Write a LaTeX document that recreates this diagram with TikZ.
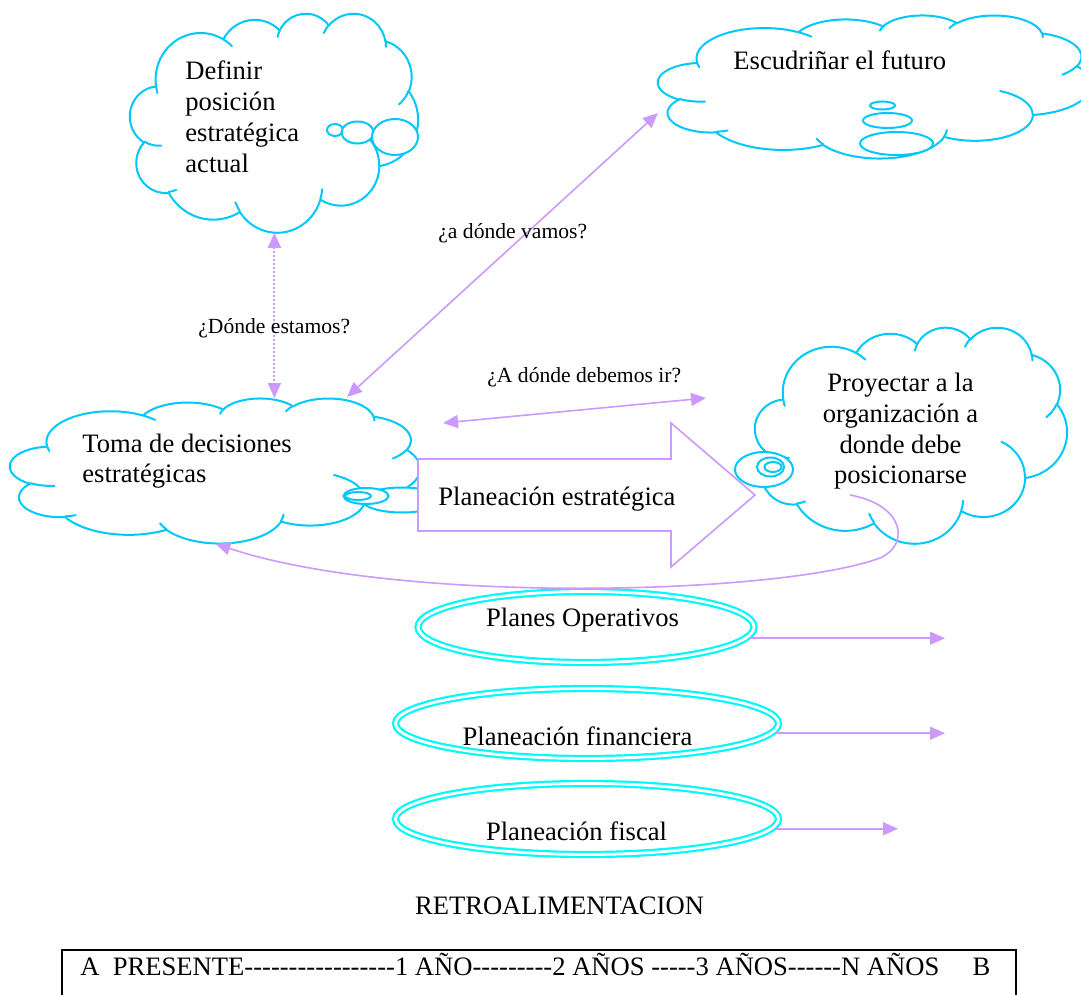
\documentclass[tikz,border=0pt]{standalone}
\usepackage{fontspec}
\setmainfont{Liberation Serif}[Ligatures=TeXOff]
\usetikzlibrary{arrows.meta,shapes.geometric}

\definecolor{cloudblue}{RGB}{0,200,250}
\definecolor{ringcyan}{RGB}{0,250,250}
\definecolor{lilac}{RGB}{204,153,255}

% stacked lines whose baseline is the first line
\newcommand\cloudtext[2]{\begin{tabular}[t]{@{}#1@{}}#2\end{tabular}}

\tikzset{
  % elliptical arc given by radii and visual start/sweep angles (degrees)
  varc/.code n args={4}{%
    \pgfmathsetmacro\vaS{#3}%
    \pgfmathsetmacro\vaE{#3+(#4)}%
    \pgfmathsetmacro\vaTS{\vaS+mod(atan2(#1*sin(\vaS),#2*cos(\vaS))-(\vaS)+540,360)-180}%
    \pgfmathsetmacro\vaTE{\vaE+mod(atan2(#1*sin(\vaE),#2*cos(\vaE))-(\vaE)+540,360)-180}%
    \edef\vaTmp{\noexpand\pgfkeysalso{/tikz/x radius=#1,/tikz/y radius=#2,/tikz/start angle=\vaTS,/tikz/end angle=\vaTE}}%
    \vaTmp
  },
  cloudline/.style={draw=cloudblue, line width=1pt, line cap=round, line join=round},
  bubble/.style={draw=cloudblue, line width=1pt, fill=white},
  link/.style={draw=lilac, line width=0.8pt, >={Triangle[length=7.5pt,width=6.5pt]}},
  dotlink/.style={link, line width=1pt, dash pattern=on 1pt off 1pt},
  ring/.style={ellipse, draw=ringcyan, line width=1.1pt, double=white, double distance=1.4pt, inner sep=0pt},
  bigtxt/.style={font=\fontsize{13.3pt}{15.35pt}\selectfont, inner sep=0pt},
  smalltxt/.style={font=\fontsize{10.8pt}{13pt}\selectfont, inner sep=0pt},
}

% cloud outline: name, left, top, width, height (picture units)
\newcommand\wordcloud[5]{%
  \pgfmathsetmacro\cwW{#4*0.5}\pgfmathsetmacro\cwH{#5*0.5}%
  \pgfmathsetmacro\cwX{#4*0.5/43.2}\pgfmathsetmacro\cwY{-#5*0.5/43.2}%
  \node[inner sep=0pt, minimum width=\cwW pt, minimum height=\cwH pt, anchor=north west] (#1) at (#2,#3) {};
  \begin{scope}[shift={(#2,#3)}]
    \begin{scope}[x=\cwX pt, y=\cwY pt]
      \path[cloudline, fill=white] (3.900,14.370)
        arc[varc={6.753}{9.190}{-190.48748}{123.78053}]
        arc[varc={5.333}{7.267}{-144.10238}{89.94523}]
        arc[varc={4.365}{5.945}{-145.80792}{99.72302}]
        arc[varc={4.857}{6.595}{-130.98607}{117.24173}]
        arc[varc={5.333}{7.273}{-78.70888}{109.02692}]
        arc[varc={6.775}{9.220}{-46.26725}{130.26900}]
        arc[varc={5.785}{7.867}{0.62502}{114.03333}]
        arc[varc={6.752}{9.215}{22.45160}{115.17255}]
        arc[varc={7.720}{10.543}{66.24263}{75.71102}]
        arc[varc={4.360}{5.918}{-274.94208}{146.73557}]
        arc[varc={4.345}{5.945}{-246.82850}{152.51885}]
        -- cycle;
      \path[cloudline]
        (4.693,26.177) arc[varc={4.345}{5.945}{86.742}{26.4295}]
        (6.928,34.899) arc[varc={4.360}{5.918}{73.61047}{11.44747}]
        (16.478,39.090) arc[varc={6.752}{9.215}{137.62415}{14.0811}]
        (28.827,34.751) arc[varc={6.752}{9.215}{6.45327}{15.99835}]
        (34.129,22.954) arc[varc={5.785}{7.867}{-70.29235}{70.91737}]
        (41.798,15.354) arc[varc={5.333}{7.273}{30.31803}{27.7515}]
        (38.324,5.426) arc[varc={4.857}{6.595}{-13.74433}{14.8589}]
        (29.078,3.952) arc[varc={4.857}{6.595}{-149.18145}{18.19537}]
        (22.141,4.720) arc[varc={4.365}{5.945}{-163.49427}{17.68635}]
        (14.000,5.192) arc[varc={6.753}{9.190}{-66.70695}{12.31935}]
        (4.127,15.789) arc[varc={6.753}{9.190}{157.65435}{11.85817}];
    \end{scope}
  \end{scope}}

\begin{document}
\begin{tikzpicture}[x=0.5pt, y=-0.5pt]
\useasboundingbox (0,0) rectangle (1081,995);

% thought clouds with their bubble tails
\wordcloud{cA}{130}{13}{288}{219}
\draw[bubble] (335,130) ellipse [x radius=8, y radius=6];
\draw[bubble] (357.5,132.5) ellipse [x radius=16, y radius=11];
\draw[bubble] (395,137) ellipse [x radius=23, y radius=18];

\wordcloud{cB}{658}{15}{433}{143}
\draw[bubble] (882.5,105.5) ellipse [x radius=12.5, y radius=4];
\draw[bubble] (887.5,120.5) ellipse [x radius=24.5, y radius=7.5];
\draw[bubble] (896.5,143.5) ellipse [x radius=36.5, y radius=11.5];

\wordcloud{cC}{10}{398}{410}{145}
\draw[bubble] (402,500) ellipse [x radius=40, y radius=12.5];
\draw[bubble] (366,496) ellipse [x radius=22.5, y radius=8];
\draw[bubble] (358,496) ellipse [x radius=13, y radius=4];

\wordcloud{cD}{755}{327}{312}{216}
\draw[bubble] (764,469.5) ellipse [x radius=29, y radius=17.5];
\draw[bubble] (770.5,467) ellipse [x radius=13.5, y radius=9.5];
\draw[bubble] (773,467) ellipse [x radius=8.5, y radius=5];

% block arrow
\draw[draw=lilac, line width=0.8pt, fill=white, line join=miter]
  (418,459) -- (671,459) -- (671,423) -- (755,495) -- (671,567) -- (671,531) -- (418,531) -- cycle;
\node[bigtxt, anchor=base west] (pe) at (438,505) {Planeación estratégica};

% plan rings
\node[ring, minimum width=168pt, minimum height=35.5pt] (e1) at (586,627) {};
\node[ring, minimum width=191.5pt, minimum height=35pt] (e2) at (587,723.5) {};
\node[ring, minimum width=191.5pt, minimum height=35.5pt] (e3) at (587,819) {};
\node[bigtxt, anchor=base] (t1) at (582.5,626) {Planes Operativos};
\node[bigtxt, anchor=base] (t2) at (577.5,745) {Planeación financiera};
\node[bigtxt, anchor=base] (t3) at (576.5,840) {Planeación fiscal};

% arrow end points
\coordinate (cCtop) at (347,397);
\coordinate (cBleft) at (658,113);
\coordinate (goL) at (443,423);
\coordinate (goR) at (706,398);
\coordinate (fb) at (850,495);
\coordinate (r1) at (945,639);
\coordinate (r2) at (945,734);
\coordinate (r3) at (898,831);

% connectors
\draw[dotlink,<->] (cA.south) -- (cA.south |- cC.north);
\draw[link,<->] (cCtop) -- (cBleft);
\draw[link,<->] (goL) -- (goR);
\draw[link,->] (fb) .. controls (905,505) and (910,545) .. (880,558)
  .. controls (780,595) and (400,605) .. (cC.south);
\draw[link,->, shorten <=1.75pt] (e1.-4.3) -- (e1.-4.3 -| r1);
\draw[link,->, shorten <=1.75pt] (e2.-3.3) -- (e2.-3.3 -| r2);
\draw[link,->, shorten <=1.75pt] (e3.-3.8) -- (e3.-3.8 -| r3);

% cloud texts
\node[bigtxt, anchor=base west] (tA) at (185,80) {\cloudtext{l}{Definir\\posición\\estratégica\\actual}};
\node[bigtxt, anchor=base west] (tB) at (733,70) {Escudriñar el futuro};
\node[bigtxt, anchor=base west] (tC) at (82,452) {\cloudtext{l}{Toma de decisiones\\estratégicas}};
\node[bigtxt, anchor=base] (tD) at (900.5,391.7) {\cloudtext{c}{Proyectar a la\\organización a\\donde debe\\posicionarse}};

% question labels
\node[smalltxt, anchor=base west] (q1) at (198,333) {¿Dónde estamos?};
\node[smalltxt, anchor=base west] (q2) at (438,238) {¿a dónde vamos?};
\node[smalltxt, anchor=base west] (q3) at (487,382) {¿A dónde debemos ir?};

% feedback caption and time line
\node[bigtxt, anchor=base] (retro) at (559.5,914) {RETROALIMENTACION};
\draw[line width=1pt] (62,1010) -- (62,950) -- (1016,950) -- (1016,1010);
\node[bigtxt, anchor=base west] (time) at (80,975)
  {A\ \ PRESENTE-----------------1 AÑO---------2 AÑOS -----3 AÑOS------N AÑOS\ \ \ \ \ B};
\end{tikzpicture}
\end{document}
